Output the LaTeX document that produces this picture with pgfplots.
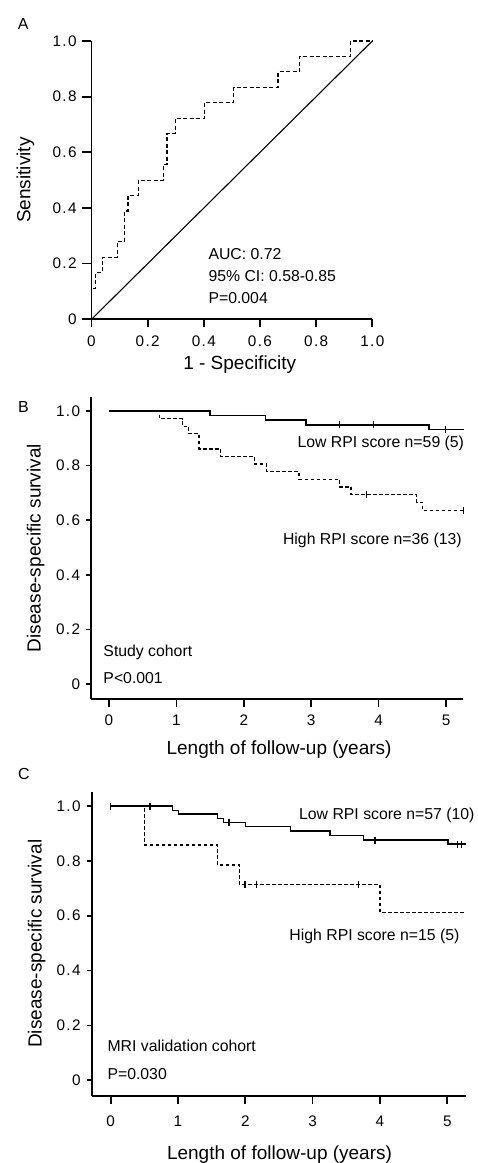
\documentclass[border=0pt]{standalone}
\usepackage{fontspec}
\setmainfont{Liberation Sans}
\newfontfamily\tickfont[LetterSpace=9]{Liberation Sans}
\usepackage{pgfplots}
\pgfplotsset{compat=1.18}

\newcommand\txt{\fontsize{15.8}{19}\selectfont}
\newcommand\letter{\fontsize{16}{19}\selectfont}
\newcommand\lab{\fontsize{19}{22}\selectfont}

\pgfplotsset{
  panel/.style={
    scale only axis, axis lines=left, clip=false,
    axis line style={-, line width=1.7pt},
    tick align=outside,
    tick style={black, line width=1.7pt},
    /pgf/number format/assume math mode=true,
    tick label style={font=\tickfont\fontsize{15.3}{18}\selectfont},
    every axis x label/.style={anchor=base, font=\lab},
    every axis y label/.style={rotate=90, anchor=center, font=\lab},
    xticklabel style={anchor=north, inner sep=0pt},
    yticklabel style={anchor=east, inner sep=0pt},
    xtick style={/pgfplots/major tick length=8pt},
  },
  km/.style={panel, ymin=-0.055, ymax=1.052,
    xtick={0,1,2,3,4,5},
    ytick={0,0.2,0.4,0.6,0.8,1}, yticklabels={0,0.2,0.4,0.6,0.8,1.0},
    ytick style={/pgfplots/major tick length=5pt},
    xlabel={Length of follow-up (years)},
    ylabel={Disease-specific survival}},
  lowc/.style={black, line width=1.5pt, const plot, mark=none},
  highc/.style={black, line width=1.2pt, const plot, mark=none, dash pattern=on 3.5pt off 2.5pt},
  cens/.style={black, only marks, mark=|, mark size=3.5pt, mark options={solid, line width=1.3pt}},
}

\begin{document}
\begin{tikzpicture}
\useasboundingbox (0pt,0pt) rectangle (478pt,-1163pt);

% ---- A: ROC curve
\node[font=\letter, inner sep=0pt] at (23.3pt,-23.8pt) {A};
\begin{axis}[panel, at={(91.5pt,-319.3pt)}, anchor=south west,
  width=280.8pt, height=278.3pt, xmin=0, xmax=1, ymin=0, ymax=1,
  xtick={0,0.2,0.4,0.6,0.8,1}, xticklabels={0,0.2,0.4,0.6,0.8,1.0},
  ytick={0,0.2,0.4,0.6,0.8,1}, yticklabels={0,0.2,0.4,0.6,0.8,1.0},
  ytick style={/pgfplots/major tick length=9.5pt},
  xticklabel style={yshift=-12pt}, yticklabel style={xshift=-10.5pt},
  xlabel={1 - Specificity}, ylabel={Sensitivity},
  xlabel style={at={(axis description cs:0.528,-0.1804)}},
  ylabel style={at={(axis description cs:-0.235,0.5)}},
]
\addplot[black, line width=1.1pt] coordinates {(0,0) (1,1)};
\addplot[black, line width=1.1pt, const plot, dash pattern=on 4pt off 2.5pt] coordinates {
  (0,0) (0,0.111) (0.014,0.167) (0.038,0.222) (0.091,0.278) (0.117,0.389)
  (0.130,0.444) (0.168,0.500) (0.257,0.556) (0.269,0.667) (0.298,0.722)
  (0.402,0.778) (0.506,0.833) (0.664,0.889) (0.740,0.944) (0.922,1) (1,1)};
\node[anchor=base west, inner sep=0pt, font=\txt] at (axis cs:0.416,0.2156) {AUC: 0.72};
\node[anchor=base west, inner sep=0pt, font=\txt] at (axis cs:0.416,0.135) {95\% CI: 0.58-0.85};
\node[anchor=base west, inner sep=0pt, font=\txt] at (axis cs:0.416,0.0575) {P=0.004};
\end{axis}

% ---- B: study cohort
\node[font=\letter, inner sep=0pt] at (23.5pt,-406.5pt) {B};
\begin{axis}[km, at={(90.7pt,-699.3pt)}, anchor=south west,
  width=372.3pt, height=302.6pt, xmin=-0.2715, xmax=5.252,
  xticklabel style={yshift=-10.7pt}, yticklabel style={xshift=-6.2pt},
  xlabel style={at={(axis description cs:0.506,-0.184)}},
  ylabel style={at={(axis description cs:-0.148,0.5)}},
]
\addplot[highc] coordinates {
  (0,1) (0.748,0.972) (1.09,0.944) (1.18,0.917) (1.335,0.861) (1.66,0.833)
  (2.16,0.806) (2.34,0.778) (2.82,0.750) (3.42,0.722) (3.59,0.694)
  (4.565,0.666) (4.65,0.637) (5.26,0.637)};
\addplot[cens] coordinates {(3.82,0.694) (5.26,0.637)};
\addplot[lowc] coordinates {
  (0,1) (1.498,0.983) (2.32,0.966) (2.92,0.949) (4.75,0.932) (5.26,0.932)};
\addplot[cens] coordinates {(3.42,0.949) (3.92,0.949) (4.995,0.932)};
\node[anchor=base east, inner sep=0pt, font=\txt] at (axis cs:5.27,0.868) {Low RPI score n=59 (5)};
\node[anchor=base east, inner sep=0pt, font=\txt] at (axis cs:5.237,0.51) {High RPI score n=36 (13)};
\node[anchor=base west, inner sep=0pt, font=\txt] at (axis cs:-0.085,0.101) {Study cohort};
\node[anchor=base west, inner sep=0pt, font=\txt] at (axis cs:-0.085,0.0037) {P<0.001};
\end{axis}

% ---- C: MRI validation cohort
\node[font=\letter, inner sep=0pt] at (24pt,-773.5pt) {C};
\begin{axis}[km, at={(92.3pt,-1095.7pt)}, anchor=south west,
  width=373.7pt, height=304pt, xmin=-0.273, xmax=5.278, ymin=-0.0561, ymax=1.0521,
  xticklabel style={yshift=-16pt}, yticklabel style={xshift=-7.3pt},
  xlabel style={at={(axis description cs:0.501,-0.209)}},
  ylabel style={at={(axis description cs:-0.149,0.5)}},
]
\addplot[highc] coordinates {
  (0,1) (0.5,0.858) (1.584,0.785) (1.91,0.7145) (4.0,0.6125) (5.278,0.6125)};
\addplot[cens] coordinates {(1.995,0.7145) (2.17,0.7145) (3.678,0.7145)};
\addplot[lowc] coordinates {
  (0,1) (0.92,0.983) (1.005,0.971) (1.59,0.955) (1.673,0.939) (2.005,0.925)
  (2.673,0.908) (3.258,0.892) (3.752,0.876) (5.01,0.861) (5.278,0.861)};
\addplot[cens] coordinates {(0,1) (0.584,1) (1.757,0.939) (3.926,0.876) (5.155,0.861) (5.214,0.861)};
\node[anchor=base west, inner sep=0pt, font=\txt] at (axis cs:2.797,0.9515) {Low RPI score n=57 (10)};
\node[anchor=base west, inner sep=0pt, font=\txt] at (axis cs:2.653,0.5115) {High RPI score n=15 (5)};
\node[anchor=base west, inner sep=0pt, font=\txt] at (axis cs:-0.05,0.104) {MRI validation cohort};
\node[anchor=base west, inner sep=0pt, font=\txt] at (axis cs:-0.05,0.0036) {P=0.030};
\end{axis}
\end{tikzpicture}
\end{document}
